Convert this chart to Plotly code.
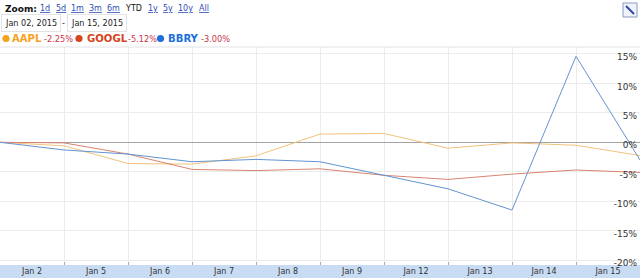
import plotly.graph_objects as go

# ---- data ----
dates = ["Jan 2", "Jan 5", "Jan 6", "Jan 7", "Jan 8", "Jan 9", "Jan 12", "Jan 13", "Jan 14", "Jan 15"]
AAPL = [0, -0.6, -3.6, -3.7, -2.3, 1.4, 1.5, -1.0, -0.1, -0.5, -2.25]
GOOGL = [0, -0.1, -2.0, -4.6, -4.8, -4.5, -5.6, -6.3, -5.4, -4.7, -5.12]
BBRY = [0, -1.3, -2.0, -3.3, -2.9, -3.3, -5.6, -7.9, -11.5, 14.6, -3.0]
y_ticks = [-20, -15, -10, -5, 0, 5, 10, 15]
zoom_links = ["1d", "5d", "1m", "3m", "6m", "YTD", "1y", "5y", "10y", "All"]
range_start = "Jan 02, 2015"
range_end = "Jan 15, 2015"

W, H = 640, 278
T, B = 47, 13
PH = H - T - B


def px(x):
    return x / W


def py(y):
    return (H - B - y) / PH


FONT = "DejaVu Sans"
xs = list(range(len(AAPL)))

fig = go.Figure()
series = [("AAPL", AAPL, "#f2c27c"), ("GOOGL", GOOGL, "#d9846f"), ("BBRY", BBRY, "#6394d0")]
for name, vals, col in series:
    fig.add_trace(go.Scatter(x=xs, y=vals, mode="lines", name=name,
                             line=dict(color=col, width=1), hoverinfo="skip"))

shapes = []
annotations = []

# bottom date band
shapes.append(dict(type="rect", xref="paper", yref="paper", x0=0, x1=1,
                   y0=py(H), y1=py(H - B), fillcolor="#c8dcf4", line=dict(width=0), layer="below"))
# top border of plot
shapes.append(dict(type="line", xref="paper", yref="paper", x0=0, x1=1, y0=1, y1=1,
                   line=dict(color="#e2e2e2", width=1)))

# header: Zoom links
annotations.append(dict(text="<b>Zoom:</b>", x=px(3), y=py(8.5), xref="paper", yref="paper",
                        xanchor="left", yanchor="middle", showarrow=False,
                        font=dict(family=FONT, size=9, color="#111")))
link_x = [45, 60.5, 77, 95.5, 113, 133.5, 152.5, 167.5, 185.5, 203.5]
for lbl, cx in zip(zoom_links, link_x):
    if lbl == "YTD":
        txt, col = lbl, "#111"
    else:
        txt, col = "<u>" + lbl + "</u>", "#2f4fb5"
    annotations.append(dict(text=txt, x=px(cx), y=py(8.5), xref="paper", yref="paper",
                            xanchor="center", yanchor="middle", showarrow=False,
                            font=dict(family=FONT, size=8, color=col)))

# date range boxes
for txt, x0 in [(range_start, 1), (range_end, 67)]:
    annotations.append(dict(text=txt, x=px(x0), y=py(23), xref="paper", yref="paper",
                            xanchor="left", yanchor="middle", showarrow=False,
                            bordercolor="#e3e3e3", borderwidth=1, borderpad=3, bgcolor="#ffffff",
                            font=dict(family=FONT, size=8.1, color="#222")))
annotations.append(dict(text="-", x=px(63.5), y=py(23), xref="paper", yref="paper",
                        xanchor="center", yanchor="middle", showarrow=False,
                        font=dict(family=FONT, size=8, color="#222")))

# legend row
legend_items = [("AAPL", AAPL, "#f7a21c", 6, 9.5, 42),
                ("GOOGL", GOOGL, "#d4441d", 79, 85, 126),
                ("BBRY", BBRY, "#1d6fdb", 160.5, 166, 198.5)]
for name, vals, col, dot_x, name_x, pct_x in legend_items:
    shapes.append(dict(type="circle", xref="paper", yref="paper",
                       x0=px(dot_x - 3.6), x1=px(dot_x + 3.6), y0=py(38.5 + 3.6), y1=py(38.5 - 3.6),
                       fillcolor=col, line=dict(width=0)))
    annotations.append(dict(text="<b>" + name + "</b>", x=px(name_x), y=py(38.3), xref="paper", yref="paper",
                            xanchor="left", yanchor="middle", showarrow=False,
                            font=dict(family=FONT, size=10.1, color=col)))
    annotations.append(dict(text=f"{vals[-1]:.2f}%", x=px(pct_x), y=py(39.3), xref="paper", yref="paper",
                            xanchor="left", yanchor="middle", showarrow=False,
                            font=dict(family=FONT, size=8.2, color="#c8334d")))

# collapse icon top right
shapes.append(dict(type="rect", xref="paper", yref="paper", x0=px(623), x1=px(637), y0=py(17), y1=py(3),
                   fillcolor="#eef2fb", line=dict(color="#8a9cc2", width=1)))
shapes.append(dict(type="line", xref="paper", yref="paper", x0=px(626), x1=px(634), y0=py(6), y1=py(14),
                   line=dict(color="#2f4aa3", width=2)))

fig.update_layout(
    width=W, height=H,
    margin=dict(l=0, r=0, t=T, b=B, pad=0),
    paper_bgcolor="white", plot_bgcolor="white",
    showlegend=False,
    shapes=shapes, annotations=annotations,
    xaxis=dict(
        range=[0, len(AAPL) - 1],
        tickmode="array",
        tickvals=[i + 0.5 for i in range(len(dates))],
        ticktext=dates,
        ticks="inside", ticklen=0, tickcolor="rgba(0,0,0,0)",
        showgrid=False, zeroline=False, showline=False,
        tickfont=dict(family=FONT, size=8, color="#333"),
        minor=dict(tickmode="array", tickvals=list(range(1, len(AAPL) - 1)),
                   showgrid=True, gridcolor="#ebebeb", gridwidth=1,
                   ticks="inside", ticklen=3, tickcolor="#aaaaaa", tickwidth=1),
        fixedrange=True,
    ),
    yaxis=dict(
        range=[-20.83, 16.18],
        side="right",
        tickmode="array",
        tickvals=y_ticks,
        ticktext=[f"{v}%" for v in y_ticks],
        ticklabelposition="inside",
        ticklabeloverflow="allow",
        ticklabelshift=3,
        ticks="",
        showgrid=True, gridcolor="#ececec", gridwidth=1,
        zeroline=True, zerolinecolor="#a3a3a3", zerolinewidth=1,
        showline=False,
        tickfont=dict(family=FONT, size=9, color="#333"),
        fixedrange=True,
    ),
)

fig.write_html("out.html", config={"displayModeBar": False})
